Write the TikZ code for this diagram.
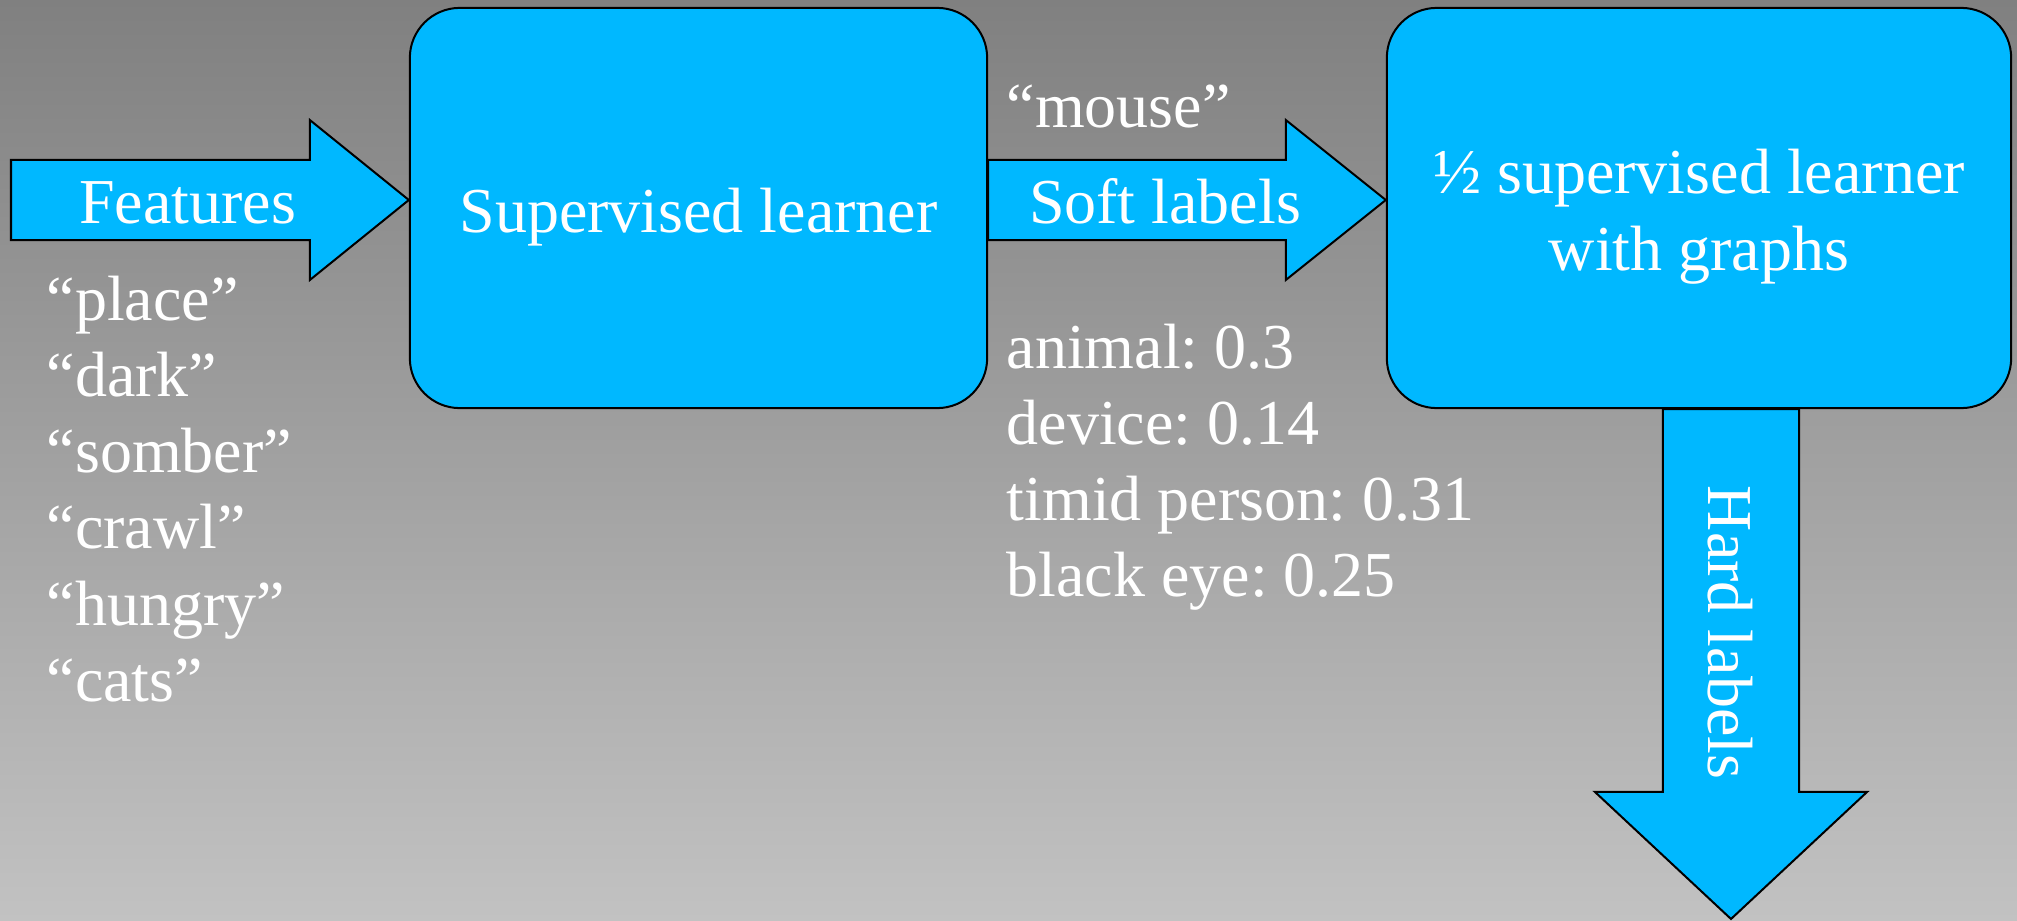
\documentclass[tikz,border=0pt]{standalone}
\usepackage{fontspec}
\setmainfont{Liberation Serif}
\usetikzlibrary{calc}
\frenchspacing

\definecolor{skyfill}{RGB}{0,184,255}
\definecolor{bgtop}{RGB}{128,128,128}
\definecolor{bgbottom}{RGB}{194,194,194}

\tikzset{
  stage/.style={draw=black, line width=0.02cm, fill=skyfill, rounded corners=0.5cm, inner sep=0pt},
  arrowbody/.style={draw=black, line width=0.02cm, fill=skyfill, line join=miter},
  caption/.style={text=white, inner sep=0pt, font=\fontsize{18.2}{21.7}\selectfont},
}

% Block arrow from #1 to #2: shaft half-width #3, head half-width #4, head length #5
\newcommand\blockarrow[5]{%
  \coordinate (ba-head) at ($(#2)!#5!(#1)$);
  \draw[arrowbody]
    ($(#1)!#3!90:(#2)$) -- ($(ba-head)!#3!90:(#2)$) -- ($(ba-head)!#4!90:(#2)$)
    -- (#2)
    -- ($(ba-head)!#4!-90:(#2)$) -- ($(ba-head)!#3!-90:(#2)$) -- ($(#1)!#3!-90:(#2)$)
    -- cycle;
}

\begin{document}
\begin{tikzpicture}[x=0.01cm, y=-0.01cm]
  % background
  \shade[top color=bgtop, bottom color=bgbottom] (0,0) rectangle (2017,921);
  \useasboundingbox (0,0) rectangle (2017,921);

  % learners
  \node[stage, minimum width=5.77cm, minimum height=4cm] (sup) at (698.5,208) {};
  \node[stage, minimum width=6.24cm, minimum height=4cm] (semi) at (1699,208) {};

  % arrow end points
  \coordinate (featstart) at (11,200);
  \coordinate (feattip) at (featstart -| sup.west);
  \coordinate (softstart) at (featstart -| sup.east);
  \coordinate (softtip) at (featstart -| semi.west);
  \coordinate (hardtip) at (1731,919);
  \coordinate (hardstart) at (hardtip |- semi.south);

  \blockarrow{featstart}{feattip}{0.4cm}{0.8cm}{0.99cm}
  \blockarrow{softstart}{softtip}{0.4cm}{0.8cm}{1.0cm}
  \blockarrow{hardstart}{hardtip}{0.68cm}{1.36cm}{1.27cm}

  % labels
  \node[caption, anchor=base] (featlbl) at (187.5,223) {Features};
  \node[caption, anchor=base] (suplbl) at (698.5,232) {Supervised learner};
  \node[caption, anchor=base] (semilbla) at (1699,193.5) {½ supervised learner};
  \node[caption, anchor=base] (semilblb) at (1699,270) {with graphs};
  \node[caption, anchor=base] (softlbl) at (1165,223) {Soft labels};
  \node[caption, anchor=base west] (mouse) at (1006,127) {“mouse”};
  \node[caption, anchor=base, rotate=-90] (hardlbl) at (1708,632.5) {Hard labels};

  % feature words
  \foreach \w [count=\i] in {place,dark,somber,crawl,hungry,cats}
    \node[caption, anchor=base west] (word\i) at (46,{320+76.3*(\i-1)}) {“\w”};

  % soft label scores
  \foreach \s [count=\i] in {animal: 0.3,device: 0.14,timid person: 0.31,black eye: 0.25}
    \node[caption, anchor=base west] (score\i) at (1006,{368.3+76.1*(\i-1)}) {\s};
\end{tikzpicture}
\end{document}
